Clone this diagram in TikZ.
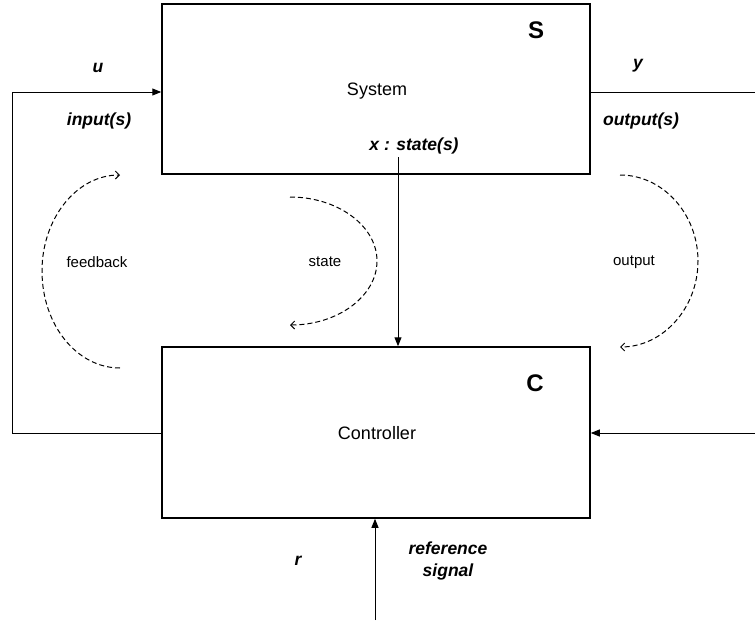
\documentclass[tikz,border=0pt]{standalone}
\usepackage{fontspec}
\setmainfont{Liberation Sans}
\usetikzlibrary{arrows.meta}
\tikzset{
  blockbox/.style={draw=black, line width=1.5pt, minimum width=428pt, minimum height=170pt, inner sep=0pt},
  conn/.style={draw=black, line width=1pt},
  arr/.style={conn, -{Triangle[length=9pt,width=7pt]}},
  dasharc/.style={draw=black, line width=1pt, dash pattern=on 5pt off 3pt, -{Straight Barb[length=4pt,width=8pt]}},
  maintext/.style={font=\fontsize{18}{21}\selectfont, inner sep=0pt},
  sigtext/.style={font=\fontsize{17.5}{22}\selectfont\bfseries\itshape, inner sep=0pt, align=center},
  smalltext/.style={font=\fontsize{15}{18}\selectfont, inner sep=0pt},
  bigletter/.style={font=\fontsize{24}{28}\selectfont\bfseries, inner sep=0pt}
}
\begin{document}
\begin{tikzpicture}[x=1pt,y=-1pt]
\useasboundingbox (0,0) rectangle (755,629);

% blocks
\node[blockbox] (sys) at (376,89) {};
\node[blockbox, minimum height=171pt] (ctrl) at (376,432.5) {};

% block labels
\node[bigletter] (sl) at (536,30) {S};
\node[bigletter] (cl) at (535,383) {C};
\node[maintext] (systxt) at (377,91) {System};
\node[maintext] (ctrltxt) at (377,433) {Controller};

% coordinates for free ends
\coordinate (fbA) at (12,433);
\coordinate (fbB) at (12,92);
\coordinate (outR) at (755,92);
\coordinate (outR2) at (755,433);
\coordinate (xs) at (398,157);
\coordinate (rs) at (375,620);

% connectors
\draw[arr] (ctrl.west |- fbA) -- (fbA) -- (fbB) -- (sys.west |- fbB);
\draw[conn] (sys.east |- outR) -- (outR);
\draw[arr] (outR2) -- (ctrl.east |- outR2);
\draw[arr] (xs) -- (ctrl.north -| xs);
\draw[arr] (rs) -- (ctrl.south -| rs);

% signal labels
\node[sigtext] (u) at (98,68) {u};
\node[sigtext] (inp) at (99,121) {input(s)};
\node[sigtext] (y) at (638,66) {y};
\node[sigtext] (outp) at (641,121) {output(s)};
\node[sigtext] (xst) at (414,146) {x : state(s)};
\node[sigtext] (r) at (298,561) {r};
\node[sigtext] (refs) at (448,561) {reference\\signal};

% dashed loops
\draw[dasharc] (120,368) .. controls (77,368) and (42,325) .. (42,271)
  .. controls (42,218) and (77,175) .. (120,175);
\draw[dasharc] (290,197) .. controls (338,197) and (377,226) .. (377,261)
  .. controls (377,296) and (338,325) .. (290,325);
\draw[dasharc] (620,175) .. controls (663,175) and (698,214) .. (698,261)
  .. controls (698,308) and (663,347) .. (620,347);

\node[smalltext] (fbt) at (97,262) {feedback};
\node[smalltext] (stt) at (325,262) {state};
\node[smalltext] (opt) at (634,262) {output};
\end{tikzpicture}
\end{document}
